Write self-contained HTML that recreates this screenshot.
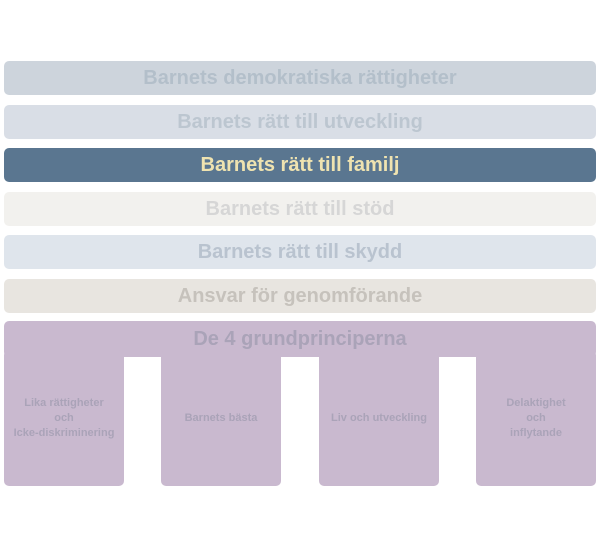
<!DOCTYPE html><html><head><style>
body{margin:0;width:601px;height:540px;background:#fff;font-family:"Liberation Sans",sans-serif;position:relative;overflow:hidden}
.b{position:absolute;left:4px;width:592px;height:34px;border-radius:5px;text-align:center;line-height:34px;font-size:20px;font-weight:bold}
.c{position:absolute;top:350px;width:120px;height:136px;background:#c9b9cf;border-radius:5px;display:flex;align-items:center;justify-content:center;text-align:center;font-size:11px;font-weight:bold;color:#aaa3b8;line-height:15px}
</style></head><body>
<div class="b" style="top:61px;background:#cdd4dc;color:#b3bfca">Barnets demokratiska rättigheter</div>
<div class="b" style="top:105px;background:#d9dee6;color:#bcc6d0">Barnets rätt till utveckling</div>
<div class="b" style="top:148px;background:#5a7690;color:#efe3b0">Barnets rätt till familj</div>
<div class="b" style="top:192px;background:#f2f1ee;color:#d6d6d6">Barnets rätt till stöd</div>
<div class="b" style="top:235px;background:#dfe5ec;color:#b9c3cf">Barnets rätt till skydd</div>
<div class="b" style="top:279px;background:#e8e5e0;color:#c6c2bc">Ansvar för genomförande</div>
<div class="b" style="top:321px;height:36px;line-height:36px;background:#c9b9cf;color:#aaa3b8">De 4 grundprinciperna</div>
<div class="c" style="left:4px">Lika rättigheter<br>och<br>Icke-diskriminering</div>
<div class="c" style="left:161px">Barnets bästa</div>
<div class="c" style="left:319px">Liv och utveckling</div>
<div class="c" style="left:476px">Delaktighet<br>och<br>inflytande</div>
</body></html>
